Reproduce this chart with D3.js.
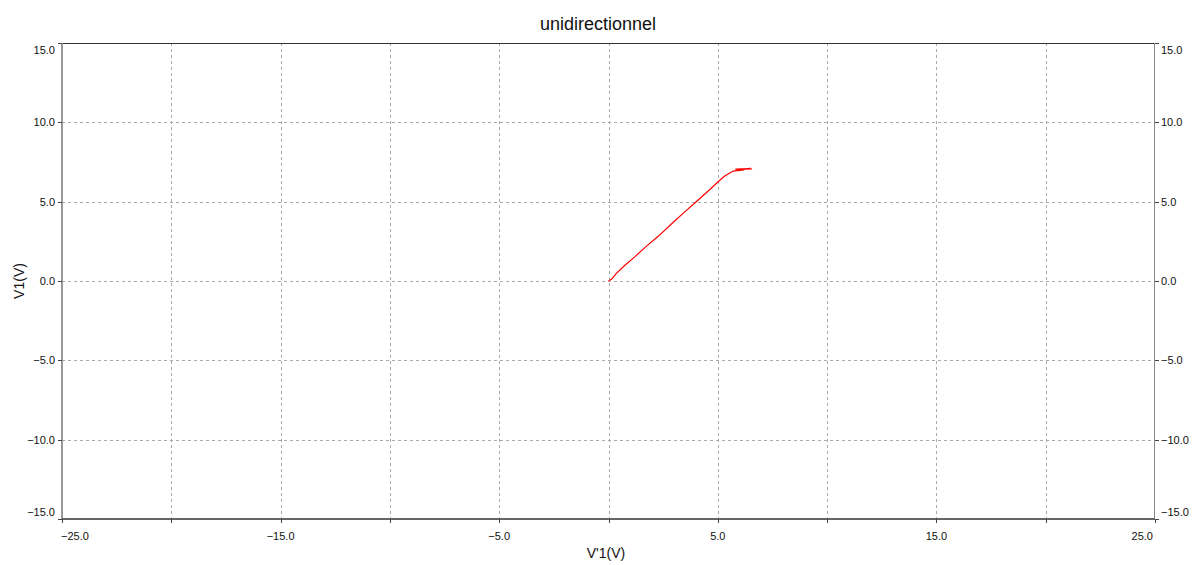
<!DOCTYPE html>
<html>
<head>
<meta charset="utf-8">
<script src="https://cdn.jsdelivr.net/npm/d3@7"></script>
<style>
  body { margin: 0; background: #fff; }
  svg { display: block; }
  text { font-family: "Liberation Sans", Arial, sans-serif; fill: #111; }
</style>
</head>
<body>
<svg id="chart" width="1193" height="565"></svg>
<script>
// Measured trace: V'1 (x) against V1 (y)
const traceX = [0, 0.15, 0.35, 0.7, 1.2, 1.7, 2.26, 3.0, 3.5, 4.0, 4.6, 5.0, 5.3, 5.7, 6.2, 5.8, 6.4, 6.0, 6.5, 6.1, 6.57];
const traceY = [0, 0.12, 0.47, 0.93, 1.52, 2.15, 2.8, 3.75, 4.37, 4.98, 5.72, 6.24, 6.6, 6.93, 7.0, 7.05, 7.08, 6.98, 7.1, 7.05, 7.06];

const xTicks = [-25, -20, -15, -10, -5, 0, 5, 10, 15, 20, 25];
const xLabelTicks = [-25, -15, -5, 5, 15, 25];
const yTicks = [-15, -10, -5, 0, 5, 10, 15];

const title = "unidirectionnel";
const xTitle = "V'1(V)";
const yTitle = "V1(V)";

const W = 1193, H = 565;
const m = { left: 62, right: 38, top: 43, bottom: 46 };
const svg = d3.select("#chart");

const x = d3.scaleLinear().domain([-25, 25]).range([m.left, W - m.right]);
const y = d3.scaleLinear().domain([-15, 15]).range([H - m.bottom, m.top]);
const x0 = m.left, x1 = W - m.right, y0 = H - m.bottom, y1 = m.top;

// grid
const grid = svg.append("g").attr("stroke", "#aaa").attr("stroke-width", 1).attr("stroke-dasharray", "3,3");
xTicks.filter(v => v > -25 && v < 25).forEach(v => {
  const px = Math.round(x(v)) + 0.5;
  grid.append("line").attr("x1", px).attr("x2", px).attr("y1", y1).attr("y2", y0);
});
yTicks.filter(v => v > -15 && v < 15).forEach(v => {
  const py = Math.round(y(v)) + 0.5;
  grid.append("line").attr("x1", x0).attr("x2", x1).attr("y1", py).attr("y2", py);
});

// frame
svg.append("line").attr("x1", x0).attr("x2", x1).attr("y1", y1 + 0.5).attr("y2", y1 + 0.5).attr("stroke", "#333").attr("stroke-width", 1);
svg.append("line").attr("x1", x0).attr("x2", x0).attr("y1", y1).attr("y2", y0).attr("stroke", "#999").attr("stroke-width", 2);
svg.append("line").attr("x1", x1 - 0.5).attr("x2", x1 - 0.5).attr("y1", y1).attr("y2", y0).attr("stroke", "#888").attr("stroke-width", 1);
svg.append("line").attr("x1", x0).attr("x2", x1).attr("y1", y0).attr("y2", y0).attr("stroke", "#666").attr("stroke-width", 2);

// ticks
const tk = svg.append("g").attr("stroke", "#444").attr("stroke-width", 1);
xTicks.forEach(v => {
  const px = Math.round(x(v)) + 0.5;
  tk.append("line").attr("x1", px).attr("x2", px).attr("y1", y0).attr("y2", y0 + 4);
});
yTicks.forEach(v => {
  const py = Math.round(y(v)) + 0.5;
  tk.append("line").attr("x1", x0 - 4).attr("x2", x0).attr("y1", py).attr("y2", py);
  tk.append("line").attr("x1", x1).attr("x2", x1 + 4).attr("y1", py).attr("y2", py);
});

const fmt = d3.format(".1f");
// x tick labels (edge labels kept inside the plot width)
xLabelTicks.forEach(v => {
  let anchor = "middle", px = x(v);
  if (v === -25) { anchor = "start"; px = x0 - 1; }
  if (v === 25) { anchor = "end"; px = x1 - 2; }
  svg.append("text").attr("x", px).attr("y", y0 + 21).attr("text-anchor", anchor)
    .attr("font-size", 11).text(fmt(v));
});
// y tick labels on both sides (edge labels kept inside the plot height)
yTicks.forEach(v => {
  let py = y(v) + 4;
  if (v === 15) py = y(v) + 11;
  if (v === -15) py = y(v) - 3;
  svg.append("text").attr("x", x0 - 7).attr("y", py).attr("text-anchor", "end").attr("font-size", 11).text(fmt(v));
  svg.append("text").attr("x", x1 + 6).attr("y", py).attr("text-anchor", "start").attr("font-size", 11).text(fmt(v));
});

// titles
svg.append("text").attr("x", 598).attr("y", 30).attr("text-anchor", "middle").attr("font-size", 18).text(title);
svg.append("text").attr("x", 606).attr("y", 558).attr("text-anchor", "middle").attr("font-size", 14).text(xTitle);
svg.append("text").attr("transform", "translate(24,281) rotate(-90)").attr("text-anchor", "middle").attr("font-size", 14).text(yTitle);

// trace
const pts = traceX.map((v, i) => [v, traceY[i]]);
svg.append("path").datum(pts)
  .attr("d", d3.line().x(d => x(d[0])).y(d => y(d[1])))
  .attr("fill", "none").attr("stroke", "#ff0000").attr("stroke-width", 1.2);
</script>
</body>
</html>
